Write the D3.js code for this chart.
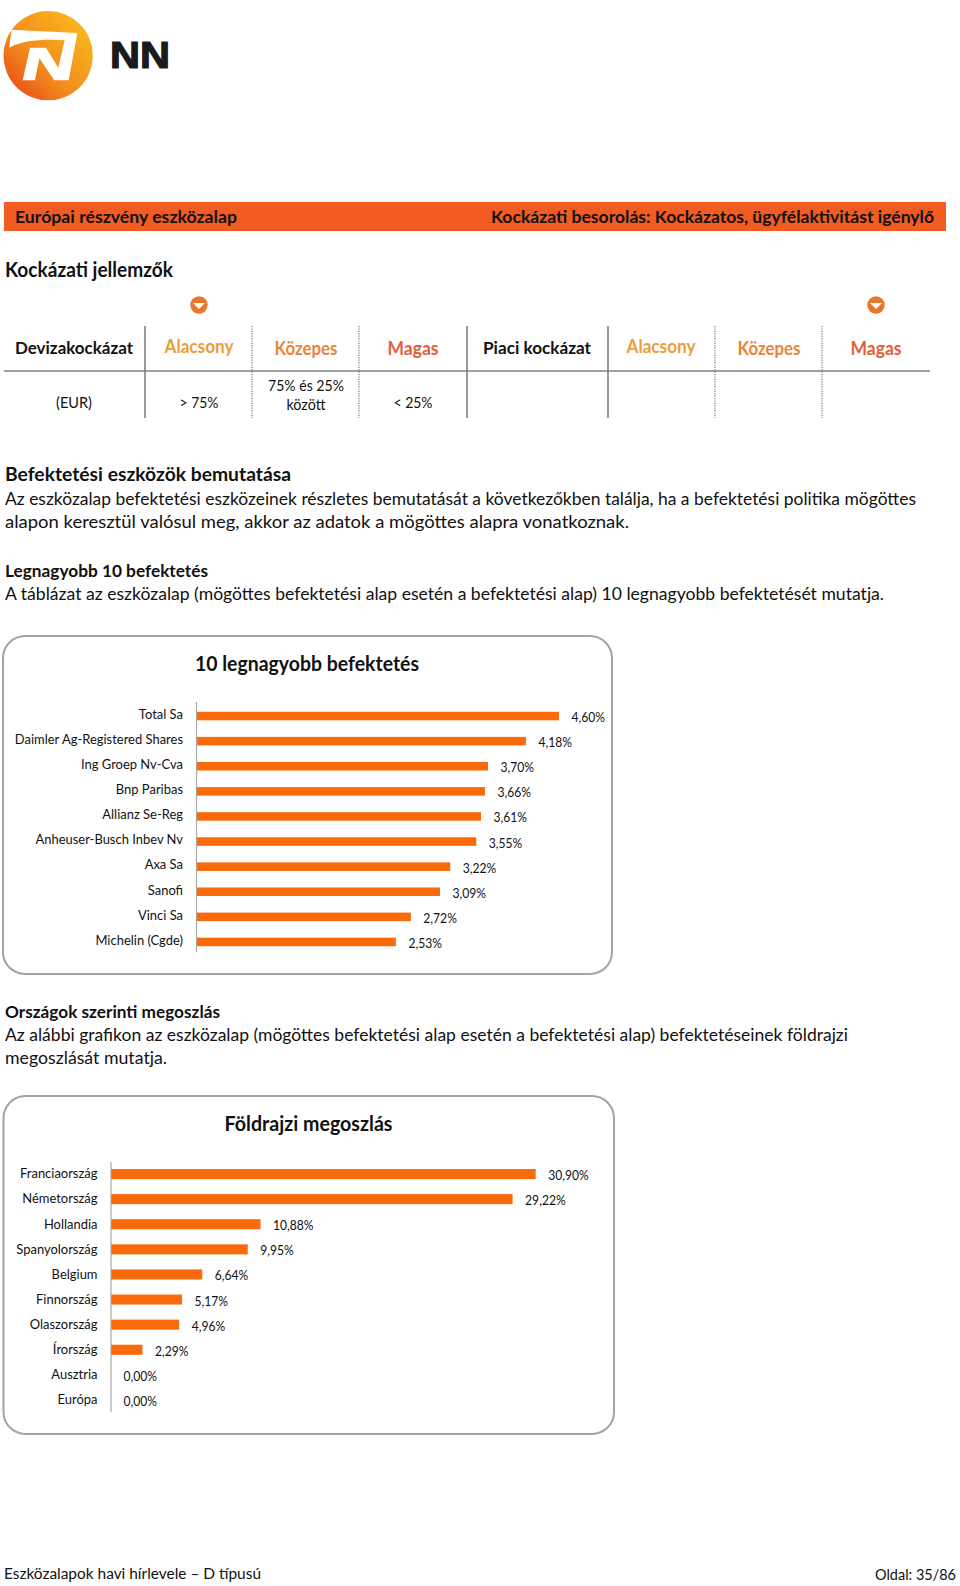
<!DOCTYPE html>
<html><head><meta charset="utf-8">
<script src="https://cdn.jsdelivr.net/npm/d3@7"></script>
<style>html,body{margin:0;padding:0;background:#fff}svg{display:block}text{font-family:Lato,"Open Sans",sans-serif;fill:#111}</style>
</head><body><svg id="c" width="960" height="1586"></svg>
<script>
const topCategories=["Total Sa","Daimler Ag-Registered Shares","Ing Groep Nv-Cva","Bnp Paribas","Allianz Se-Reg","Anheuser-Busch Inbev Nv","Axa Sa","Sanofi","Vinci Sa","Michelin (Cgde)"];
const topValues=[4.60,4.18,3.70,3.66,3.61,3.55,3.22,3.09,2.72,2.53];
const geoCategories=["Franciaország","Németország","Hollandia","Spanyolország","Belgium","Finnország","Olaszország","Írország","Ausztria","Európa"];
const geoValues=[30.90,29.22,10.88,9.95,6.64,5.17,4.96,2.29,0.00,0.00];
const riskLevels=["Alacsony","Közepes","Magas"];
const riskColors=["#ea9d3c","#e9843a","#e0603c"];
const thresholds=["> 75%",null,"< 25%"];

const svg=d3.select("#c");
const fmt=v=>v.toFixed(2).replace(".",",")+"%";
function T(s,x,y,o={}){
  const t=svg.append("text").attr("x",x).attr("y",y).text(s)
    .attr("font-size",o.size||16.5).attr("font-weight",o.bold?700:400)
    .attr("text-anchor",o.anchor||"start");
  if(o.color)t.style("fill",o.color);
  if(o.w){t.attr("textLength",o.w).attr("lengthAdjust","spacingAndGlyphs");}
  return t;
}
// logo
const defs=svg.append("defs");
const g=defs.append("linearGradient").attr("id","lg").attr("x1","0.05").attr("y1","0.85").attr("x2","0.8").attr("y2","0.1");
[["0","#e8501a"],["0.4","#f28a1c"],["1","#f9b41c"]].forEach(d=>g.append("stop").attr("offset",d[0]).attr("stop-color",d[1]));
const logo=svg.append("g").attr("transform","translate(0,5) scale(0.3333)");
logo.append("circle").attr("cx",144.5).attr("cy",152).attr("r",134).attr("fill","url(#lg)");
logo.append("path").attr("fill","#fff").attr("d","M35,74 L232,84 L206,226 L163,226 L118,160 L105,226 L68,226 L90,128 L138,128 L175,188 L194,106 C130,102 70,105 28,128 C30,110 32,90 35,74Z");
T("NN",110,68,{size:36,bold:true,w:60}).style("font-family","'Liberation Sans',sans-serif").style("fill","#1a1a1a").style("stroke","#1a1a1a").style("stroke-width",1.2);
// header band
svg.append("rect").attr("x",4).attr("y",202).attr("width",942).attr("height",29).attr("fill","#f25c23");
T("Európai részvény eszközalap",15,223,{size:17.5,bold:true,w:222});
T("Kockázati besorolás: Kockázatos, ügyfélaktivitást igénylő",491,223,{size:17.5,bold:true,w:443});
T("Kockázati jellemzők",5,277,{size:20,bold:true,w:168});
// risk table
const gridStroke="#808080";
svg.append("line").attr("x1",4).attr("x2",930).attr("y1",371).attr("y2",371).attr("stroke",gridStroke).attr("stroke-width",1.6);
[145,467,608].forEach(x=>svg.append("line").attr("x1",x).attr("x2",x).attr("y1",326).attr("y2",418).attr("stroke",gridStroke).attr("stroke-width",1.6));
[252,359,715,822].forEach(x=>svg.append("line").attr("x1",x).attr("x2",x).attr("y1",326).attr("y2",418).attr("stroke","#777").attr("stroke-width",1.2).attr("stroke-dasharray","1.2 1.2"));
T("Devizakockázat",74,354,{size:17.5,bold:true,anchor:"middle",w:118});
T("Piaci kockázat",537,354,{size:17.5,bold:true,anchor:"middle",w:108});
[[199,306,413],[661,769,876]].forEach(cols=>cols.forEach((x,i)=>{
  T(riskLevels[i],x,i==0?353:355,{size:18,bold:true,anchor:"middle",color:riskColors[i],w:[69,63,51][i]});
}));
[199,306,413].forEach((x,i)=>{ if(thresholds[i]) T(thresholds[i],x,408,{size:16,anchor:"middle",w:39}); });
T("(EUR)",74,408,{size:16,anchor:"middle",w:36});
T("75% és 25%",306,391,{size:16,anchor:"middle",w:76});
T("között",306,410,{size:16,anchor:"middle",w:39});
[199,876].forEach(x=>{
  svg.append("circle").attr("cx",x).attr("cy",305).attr("r",8.7).attr("fill","#e8772e");
  svg.append("path").attr("d",d3.line()([[x-6,303],[x+6,303],[x,309]])+"Z").attr("fill","#fff");
});
// paragraphs
T("Befektetési eszközök bemutatása",5,481,{size:18,bold:true,w:286});
T("Az eszközalap befektetési eszközeinek részletes bemutatását a következőkben találja, ha a befektetési politika mögöttes",5,505,{w:911});
T("alapon keresztül valósul meg, akkor az adatok a mögöttes alapra vonatkoznak.",5,528,{w:624});
T("Legnagyobb 10 befektetés",5,577,{size:17.5,bold:true,w:203});
T("A táblázat az eszközalap (mögöttes befektetési alap esetén a befektetési alap) 10 legnagyobb befektetését mutatja.",5,600,{w:879});
T("Országok szerinti megoszlás",5,1018,{size:17.5,bold:true,w:215});
T("Az alábbi grafikon az eszközalap (mögöttes befektetési alap esetén a befektetési alap) befektetéseinek földrajzi",5,1041,{w:843});
T("megoszlását mutatja.",5,1064,{w:162});
// charts
function chart(o){
  svg.append("rect").attr("x",o.box[0]).attr("y",o.box[1]).attr("width",o.box[2]-o.box[0]).attr("height",o.box[3]-o.box[1]).attr("rx",22).attr("fill","#fff").attr("stroke","#a3a3a3").attr("stroke-width",2);
  T(o.title,o.titleX,o.titleY,{size:20,bold:true,anchor:"middle",w:o.titleW});
  const x=d3.scaleLinear().domain([0,o.max]).range([o.x0,o.x1]);
  const y=d3.scaleBand().domain(o.cats).range(o.yr).paddingInner(o.pad).paddingOuter(o.pad/2);
  svg.selectAll(null).data(o.vals).join("rect").attr("x",o.x0).attr("y",(d,i)=>y(o.cats[i])).attr("width",d=>x(d)-o.x0).attr("height",y.bandwidth()).attr("fill","#fb6a0a");
  const ax=svg.append("g").attr("transform",`translate(${o.x0},${o.labDy})`).call(d3.axisLeft(y).tickSize(0).tickPadding(o.lab));
  ax.select(".domain").remove();
  ax.selectAll("text").attr("font-size",14).attr("dy","0.2em").style("font-family","Lato").each(function(){this.setAttribute("textLength",this.getComputedTextLength()*0.925);this.setAttribute("lengthAdjust","spacingAndGlyphs");});
  svg.append("line").attr("x1",o.x0).attr("x2",o.x0).attr("y1",o.ax[0]).attr("y2",o.ax[1]).attr("stroke","#a8a8a8").attr("stroke-width",1.2);
  o.vals.forEach((v,i)=>{
    T(fmt(v),x(v)+12.5,y(o.cats[i])+y.bandwidth()/2+6,{size:14,w:v>=10?40.5:33.5});
  });
}
chart({box:[3,636,612,974],title:"10 legnagyobb befektetés",titleX:307,titleY:671,titleW:224,cats:topCategories,vals:topValues,max:4.6,x0:196.5,x1:559,yr:[703.5,954.5],pad:0.66,ax:[702,952],lab:13.5,labDy:0});
chart({box:[3.5,1096,614,1434],title:"Földrajzi megoszlás",titleX:308.5,titleY:1131,titleW:168,cats:geoCategories,vals:geoValues,max:30.9,x0:111,x1:535.7,yr:[1161.5,1412.5],pad:0.6,ax:[1162,1412],lab:13.5,labDy:1.5});
// footer
T("Eszközalapok havi hírlevele – D típusú",4,1579,{size:15.5,w:257});
T("Oldal: 35/86",875,1580,{size:14.5,w:81});
</script></body></html>
